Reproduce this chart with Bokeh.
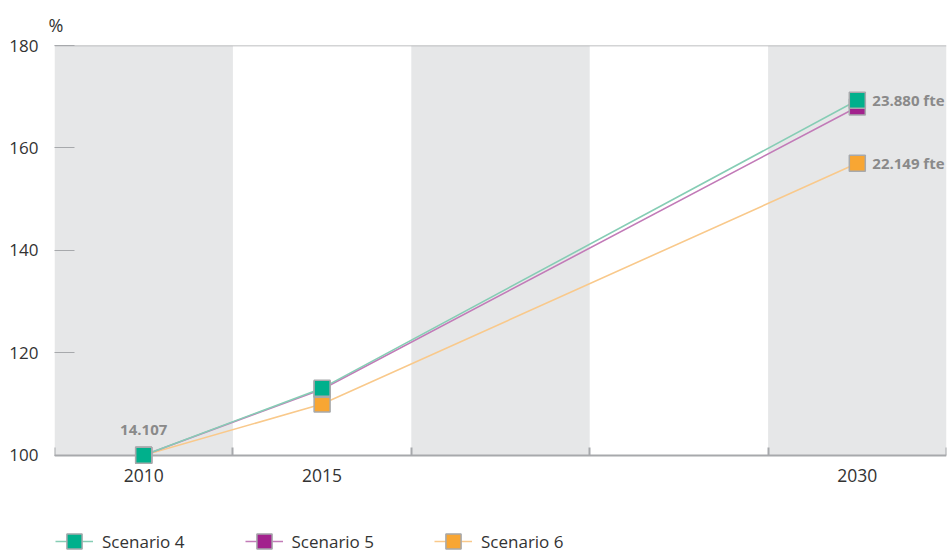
from bokeh.plotting import figure
from bokeh.layouts import column
from bokeh.models import (Range1d, FixedTicker, Label, Legend, LegendItem, Span,
                          LinearAxis)
from bokeh.embed import file_html
from bokeh.resources import INLINE

# ---- data ----
categories = ["2010", "2015", "", "", "2030"]
years_idx = [0, 1, 4]          # positions of 2010, 2015, 2030 in categories
series_names = ["Scenario 4", "Scenario 5", "Scenario 6"]
scenario4 = [100, 113.1, 169.3]
scenario5 = [100, 112.9, 168.0]
scenario6 = [100, 110.0, 157.0]
marker_colors = ["#00b08c", "#a2228d", "#f8a633"]
line_colors = ["#86cdb5", "#c27bb8", "#f9c98b"]
y_ticks = [100, 120, 140, 160, 180]
value_labels = ["14.107", "23.880 fte", "22.149 fte"]
value_label_series = [0, 0, 2]   # which series each label belongs to
value_label_point = [0, 2, 2]    # which point of the series
unit_label = "%"

series = [scenario4, scenario5, scenario6]

FONT = "Open Sans"
TXT = "#333333"
GREY = "#a7a9ac"
Y_PAD = 2  # room below the base line so the base markers are not cut

p = figure(width=949, height=510, output_backend="svg", toolbar_location=None,
           x_range=Range1d(-0.5, len(categories) - 0.5),
           y_range=Range1d(y_ticks[0] - Y_PAD, y_ticks[-1]),
           x_axis_location=None,
           min_border_left=54, min_border_right=3, min_border_top=45,
           min_border_bottom=45)
p.outline_line_color = None
p.background_fill_color = "white"
p.border_fill_color = "white"
p.xgrid.visible = False
p.ygrid.visible = False

# unit label as title
p.title.text = unit_label
p.title.align = "left"
p.title.offset = -6
p.title.standoff = 18
p.title.text_font = FONT
p.title.text_font_size = "18px"
p.title.text_font_style = "normal"
p.title.text_color = TXT

# alternating bands (drawn beneath everything else)
for i in range(0, len(categories), 2):
    p.quad(left=i - 0.5, right=i + 0.5, bottom=y_ticks[0], top=y_ticks[-1],
           fill_color="#e6e7e8", line_color=None, level="image")

# top line at 180
p.add_layout(Span(location=y_ticks[-1], dimension="width", line_color=GREY,
                  line_width=1.5))

# x axis line + band ticks, fixed at the base value
xline = LinearAxis(fixed_location=y_ticks[0],
                   ticker=FixedTicker(ticks=years_idx,
                                      minor_ticks=[i - 0.5 for i in range(len(categories) + 1)]))
xline.major_tick_in = 0
xline.major_tick_out = 0
xline.minor_tick_in = 8
xline.minor_tick_out = 0
xline.minor_tick_line_color = GREY
xline.minor_tick_line_width = 2
xline.axis_line_color = GREY
xline.axis_line_width = 2
xline.major_label_text_color = None
xline.level = "underlay"
p.add_layout(xline, "below")

# x axis labels
xlab = LinearAxis(ticker=FixedTicker(ticks=years_idx))
xlab.major_label_overrides = {i: categories[i] for i in years_idx}
xlab.axis_line_color = None
xlab.major_tick_line_color = None
xlab.minor_tick_line_color = None
xlab.major_tick_in = 0
xlab.major_tick_out = 0
xlab.major_label_text_font = FONT
xlab.major_label_text_font_size = "17.5px"
xlab.major_label_text_color = TXT
xlab.major_label_standoff = 3
p.add_layout(xlab, "below")

ya = p.yaxis[0]
ya.ticker = FixedTicker(ticks=y_ticks)
ya.axis_line_color = None
ya.major_tick_in = 20
ya.major_tick_out = 0
ya.major_tick_line_color = GREY
ya.major_tick_line_width = 1
ya.minor_tick_line_color = None
ya.major_label_text_font = FONT
ya.major_label_text_font_size = "17px"
ya.major_label_text_color = TXT
ya.major_label_standoff = 16

# lines first, then markers (scenario 4 on top)
for k in reversed(range(3)):
    p.line(years_idx, series[k], line_color=line_colors[k], line_width=1.6)
for k in reversed(range(3)):
    p.scatter(years_idx, series[k], marker="square", size=16,
              fill_color=marker_colors[k], line_color=GREY, line_width=1.5)

# value labels
for txt, s, pt in zip(value_labels, value_label_series, value_label_point):
    x = years_idx[pt]
    y = series[s][pt]
    if pt == 0:
        lab = Label(x=x, y=y, text=txt, text_align="center", text_baseline="middle",
                    y_offset=25)
    else:
        lab = Label(x=x, y=y, text=txt, text_align="left", text_baseline="middle",
                    x_offset=15)
    lab.text_font = FONT
    lab.text_font_size = "15px"
    lab.text_font_style = "bold"
    lab.text_color = "#8a8a8a"
    p.add_layout(lab)

# ---- legend strip (its glyphs hold the series but lie outside its view) ----
lg = figure(width=949, height=41, output_backend="svg", toolbar_location=None,
            x_axis_type=None, y_axis_type=None,
            x_range=Range1d(-100, -99), y_range=Range1d(-100, -99),
            min_border_left=0, min_border_right=0, min_border_top=0,
            min_border_bottom=0)
lg.outline_line_color = None
lg.xgrid.visible = False
lg.ygrid.visible = False
items = []
for k in range(3):
    lr = lg.line(x=years_idx, y=series[k], line_color=line_colors[k], line_width=1.6)
    mr = lg.scatter(x=years_idx, y=series[k], marker="square", size=16,
                    fill_color=marker_colors[k], line_color=GREY, line_width=1.5)
    items.append(LegendItem(label=series_names[k], renderers=[lr, mr]))
legend = Legend(items=items, orientation="horizontal", location=(1, -10),
                glyph_width=38, glyph_height=40, label_standoff=9, spacing=60,
                padding=0, margin=0, border_line_color=None,
                background_fill_alpha=0,
                label_text_font=FONT, label_text_font_size="17px",
                label_text_color=TXT)
lg.add_layout(legend, "center")

layout = column(p, lg, spacing=0)
open("out.html", "w").write(file_html(layout, INLINE))
